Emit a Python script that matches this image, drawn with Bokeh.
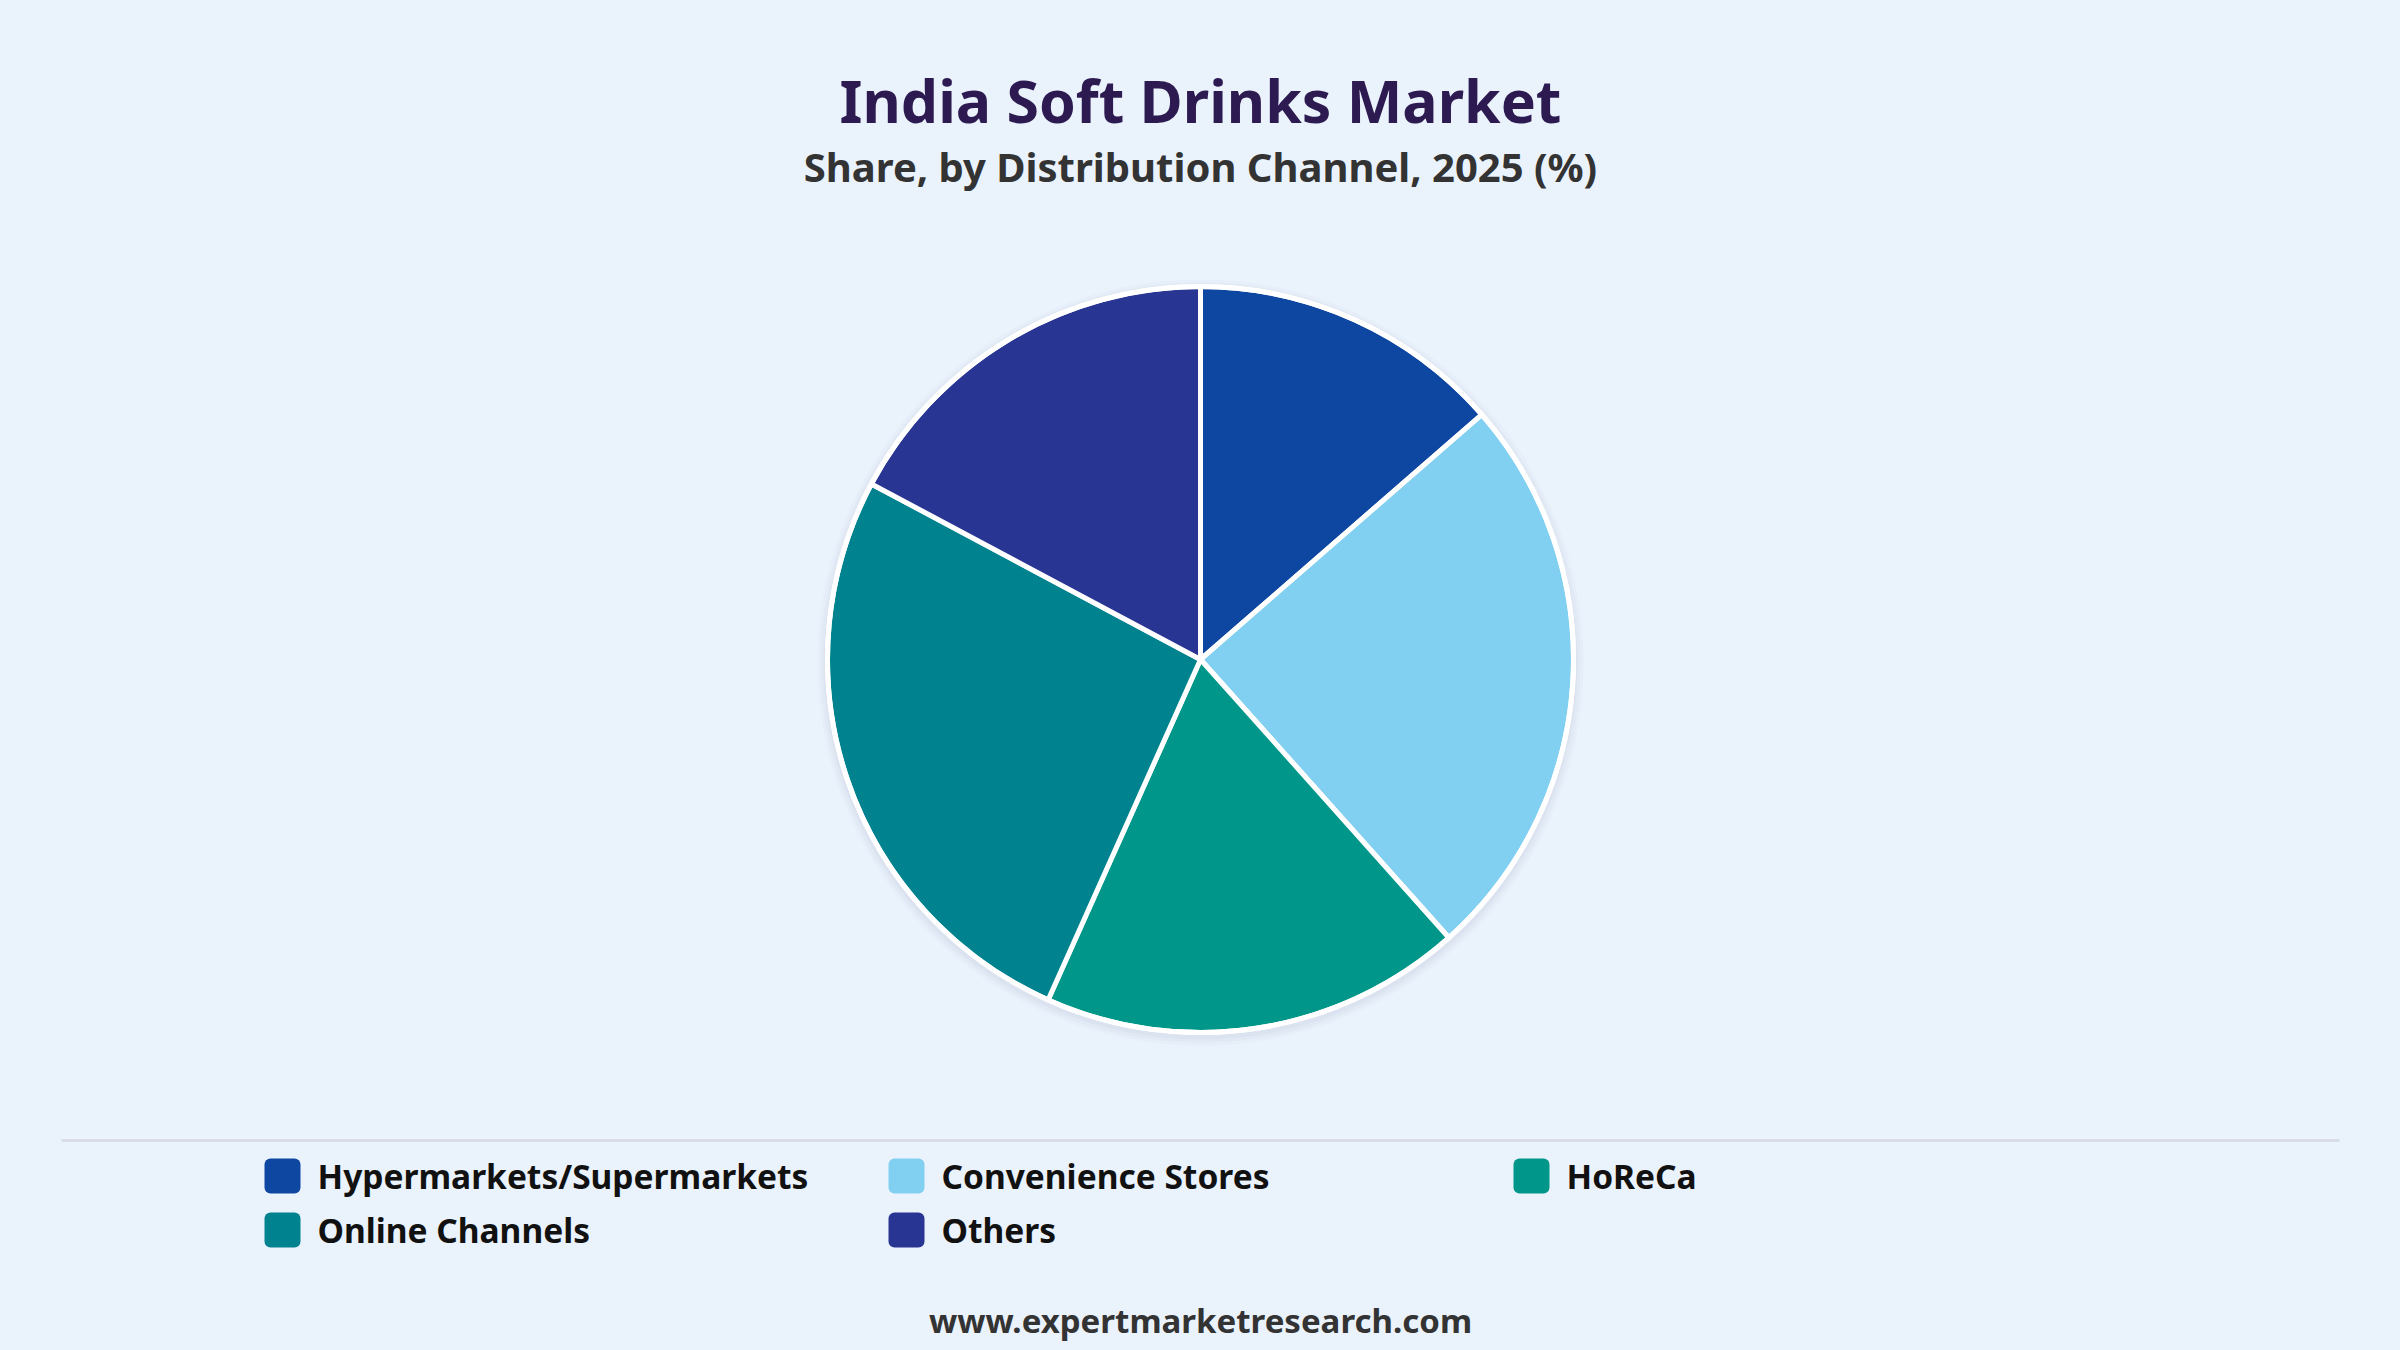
import math
from bokeh.plotting import figure
from bokeh.models import Range1d
from bokeh.core.properties import value
from bokeh.embed import file_html
from bokeh.resources import INLINE

# ---- data ----
categories = ["Hypermarkets/Supermarkets", "Convenience Stores", "HoReCa", "Online Channels", "Others"]
shares = [13.6, 24.8, 18.3, 26.1, 17.2]
colors = ["#0E47A1", "#81CFF1", "#00978A", "#00838F", "#283593"]
title_text = "India Soft Drinks Market"
subtitle_text = "Share, by Distribution Channel, 2025 (%)"
footer_text = "www.expertmarketresearch.com"

BG = "#EAF2FC"
W, H = 2400, 1350
FONT = "Noto Sans"

def X(x):
    return x

def Y(y):
    return H - y

p = figure(width=W, height=H, output_backend="svg", toolbar_location=None,
           x_axis_type=None, y_axis_type=None, min_border=0,
           x_range=Range1d(0, W), y_range=Range1d(0, H))
p.background_fill_color = BG
p.border_fill_color = BG
p.outline_line_color = None
p.grid.visible = False

# ---- pie ----
cx, cy, r = X(1200), Y(659), 373
# soft shadow
for k, a in [(10, 0.025), (7, 0.03), (4, 0.04)]:
    p.circle(x=[cx], y=[cy - 3], radius=r + k, fill_color="#5a6a80", fill_alpha=a, line_color=None)

total = sum(shares)
starts, ends = [], []
acc = 0.0
for s in shares:
    a0 = math.pi / 2 - 2 * math.pi * acc / total
    acc += s
    a1 = math.pi / 2 - 2 * math.pi * acc / total
    starts.append(a0)
    ends.append(a1)

p.wedge(x=cx, y=cy, radius=r, start_angle=starts, end_angle=ends, direction="clock",
        fill_color=colors, line_color="white", line_width=5)
p.circle(x=[cx], y=[cy], radius=r, fill_color=None, line_color="white", line_width=5)

# ---- titles ----
p.text(x=[X(1200)], y=[Y(99)], text=[title_text], text_align="center", text_baseline="middle",
       text_font=value(FONT), text_font_style="bold", text_font_size="59px", text_color="#2C1A50")
p.text(x=[X(1200)], y=[Y(166)], text=[subtitle_text], text_align="center", text_baseline="middle",
       text_font=value(FONT), text_font_style="bold", text_font_size="40px", text_color="#333333")

# ---- separator ----
p.segment(x0=[X(61)], y0=[Y(1140)], x1=[X(2339)], y1=[Y(1140)], line_color="#D9DEE6", line_width=3)

# ---- legend ----
col_x = [264, 888, 1513]
row_y = [1175.5, 1229.5]
lx, ly, tx, ty = [], [], [], []
for i, c in enumerate(categories):
    col, row = i % 3, i // 3
    lx.append(X(col_x[col] + 18))
    ly.append(Y(row_y[row]))
    tx.append(X(col_x[col] + 53))
    ty.append(Y(row_y[row]))
p.rect(x=lx, y=ly, width=36, height=35, fill_color=colors, line_color=None, border_radius=6)
p.text(x=tx, y=ty, text=categories, text_align="left", text_baseline="middle",
       text_font=value(FONT), text_font_style="bold", text_font_size="33.5px", text_color="#111111")

# ---- footer ----
p.text(x=[X(1200)], y=[Y(1320)], text=[footer_text], text_align="center", text_baseline="middle",
       text_font=value(FONT), text_font_style="bold", text_font_size="33px", text_color="#333333")

html = file_html(p, INLINE)
html = html.replace("</head>", "<style>html,body{margin:0;padding:0;background:%s;overflow:hidden;}</style></head>" % BG, 1)
open("out.html", "w").write(html)
